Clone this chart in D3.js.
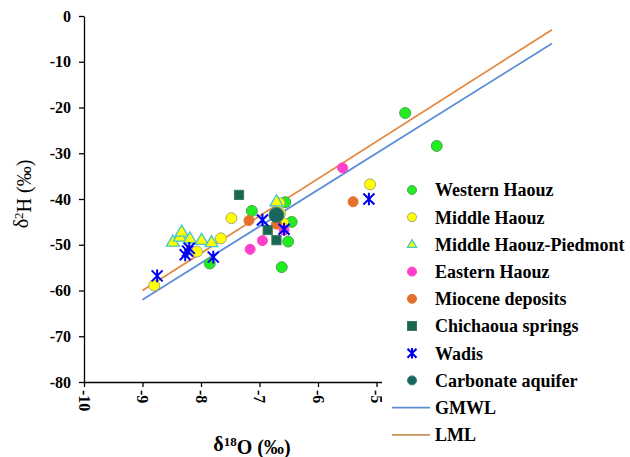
<!DOCTYPE html>
<html>
<head>
<meta charset="utf-8">
<script src="https://cdn.jsdelivr.net/npm/d3@7"></script>
<style>
  body { margin: 0; background: #fff; }
  svg { display: block; }
  text { font-family: "Liberation Serif", "Times New Roman", serif; fill: #000; }
</style>
</head>
<body>
<div id="chart"></div>
<script>
// Series values: [δ18O, δ2H]
const westernHaouz = [[-4.51, -21.2], [-3.97, -28.4], [-7.13, -42.6], [-6.56, -40.7], [-6.45, -45.0], [-6.51, -49.3], [-6.62, -54.9], [-7.85, -54.1]]
const middleHaouz = [[-8.80, -58.9], [-7.66, -48.6], [-7.48, -44.2], [-8.07, -51.5], [-6.66, -40.9], [-6.65, -43.1], [-6.59, -45.3], [-5.11, -36.8]]
const middleHaouzPiedmont = [[-8.48, -49.4], [-8.36, -48.3], [-8.33, -47.2], [-8.19, -48.7], [-7.99, -49.0], [-7.82, -49.5], [-6.71, -40.6]]
const easternHaouz = [[-5.58, -33.2], [-7.16, -51.0], [-6.95, -49.1], [-6.58, -46.8]]
const mioceneDeposits = [[-5.40, -40.6], [-7.18, -44.7], [-6.71, -45.5]]
const chichaouaSprings = [[-7.35, -39.1], [-6.86, -46.8], [-6.71, -49.0]]
const wadis = [[-8.75, -56.8], [-8.27, -52.2], [-8.20, -50.8], [-8.23, -51.4], [-7.79, -52.7], [-6.95, -44.6], [-6.58, -46.6], [-5.13, -40.0]]
const carbonateAquifer = [[-6.71, -43.5]]

// Reference lines (end points)
const gmwl = [[-9, -62], [-2, -6]]
const lml = [[-9, -60], [-2, -3]]

// Axis ticks
const xTicks = [-10, -9, -8, -7, -6, -5]
const yTicks = [0, -10, -20, -30, -40, -50, -60, -70, -80]

const legendNames = ["Western Haouz", "Middle Haouz", "Middle Haouz-Piedmont", "Eastern Haouz", "Miocene deposits", "Chichaoua springs", "Wadis", "Carbonate aquifer", "GMWL", "LML"]

const width = 630
const height = 457

const svg = d3.select("#chart").append("svg").attr("width", width).attr("height", height)

// Scales
const x = d3.scaleLinear().domain([-10, -1]).range([84, 610.5])
const y = d3.scaleLinear().domain([-80, 0]).range([382, 16])

// Series styles
const series = [
  { data: westernHaouz, type: "circle", fill: "#22ec22", stroke: "#4ea64e", r: 5.5 },
  { data: middleHaouz, type: "circle", fill: "#ffff00", stroke: "#a9a77a", r: 5.5 },
  { data: middleHaouzPiedmont, type: "triangle", fill: "#ffff00", stroke: "#3fc6d2", r: 6.5 },
  { data: easternHaouz, type: "circle", fill: "#ff40cc", stroke: "#ff40cc", r: 5 },
  { data: mioceneDeposits, type: "circle", fill: "#e5702c", stroke: "#e5702c", r: 5 },
  { data: chichaouaSprings, type: "square", fill: "#1b6650", stroke: "#3b7a60", r: 4.6 },
  { data: wadis, type: "star", fill: "none", stroke: "#0000f0", r: 5.5 },
  { data: carbonateAquifer, type: "circle", fill: "#18675e", stroke: "#3a7a70", r: 7.5 },
]

function drawMarker(sel, s, r) {
  if (s.type === "circle") {
    sel.append("circle").attr("r", r).attr("fill", s.fill).attr("stroke", s.stroke).attr("stroke-width", 1)
  } else if (s.type === "square") {
    sel.append("rect").attr("x", -r).attr("y", -r).attr("width", 2 * r).attr("height", 2 * r)
      .attr("fill", s.fill).attr("stroke", s.stroke).attr("stroke-width", 1)
  } else if (s.type === "triangle") {
    const h = r * 1.7
    sel.append("path")
      .attr("d", `M0,${-h * 0.62}L${r},${h * 0.38}L${-r},${h * 0.38}Z`)
      .attr("fill", s.fill).attr("stroke", s.stroke).attr("stroke-width", 1.3)
  } else {
    // star marker: an X with a vertical bar
    sel.append("path")
      .attr("d", `M${-r},${-r}L${r},${r}M${r},${-r}L${-r},${r}M0,${-r * 1.15}L0,${r * 1.15}`)
      .attr("fill", "none").attr("stroke", s.stroke).attr("stroke-width", 2)
  }
}

// Reference lines
const line = d3.line().x((d) => x(d[0])).y((d) => y(d[1]))
svg.append("path").datum(gmwl).attr("d", line).attr("fill", "none").attr("stroke", "#5b8ed6").attr("stroke-width", 1.8)
svg.append("path").datum(lml).attr("d", line).attr("fill", "none").attr("stroke", "#e3873e").attr("stroke-width", 1.8)

// Points
series.forEach((s) => {
  svg.append("g").selectAll("g").data(s.data).enter().append("g")
    .attr("transform", (d) => `translate(${x(d[0])},${y(d[1])})`)
    .each(function () { drawMarker(d3.select(this), s, s.r) })
})

// Axes
const xAxis = svg.append("g").attr("transform", `translate(0,${y(-80)})`)
  .call(d3.axisBottom(x).tickValues(xTicks).tickSize(5).tickSizeOuter(0).tickFormat(d3.format("d")))
xAxis.selectAll("text")
  .attr("transform", "rotate(90)")
  .attr("x", 8).attr("y", 0).attr("dy", "0.35em")
  .attr("text-anchor", "start")
  .style("font-size", "16px").style("font-weight", "bold")

const yAxis = svg.append("g").attr("transform", `translate(${x(-10)},0)`)
  .call(d3.axisLeft(y).tickValues(yTicks).tickSize(5).tickSizeOuter(0).tickFormat(d3.format("d")))
yAxis.selectAll("text").attr("x", -13).style("font-size", "16px").style("font-weight", "bold")

svg.selectAll(".domain, .tick line").attr("stroke", "#000").attr("stroke-width", 1.3)
svg.selectAll(".tick text").text((d) => String(d).replace("\u2212", "-"))

// Axis titles
const yTitle = svg.append("text").attr("transform", "translate(28,194) rotate(-90)")
  .attr("text-anchor", "middle").style("font-size", "20px")
yTitle.append("tspan").text("δ")
yTitle.append("tspan").text("2").attr("dy", "-0.4em").style("font-size", "13px")
yTitle.append("tspan").text("H (‰)").attr("dy", "0.4em")

const xTitle = svg.append("text").attr("x", 252).attr("y", 451)
  .attr("text-anchor", "middle").style("font-size", "20px").style("font-weight", "bold")
xTitle.append("tspan").text("δ")
xTitle.append("tspan").text("18").attr("dy", "-0.4em").style("font-size", "13px")
xTitle.append("tspan").text("O (‰)").attr("dy", "0.4em")

// Legend (white box covering the right side)
const legend = svg.append("g")
legend.append("rect").attr("x", 382).attr("y", 168).attr("width", 248).attr("height", 289).attr("fill", "#fff")

const rowY = (i) => 190 + i * 27.2
legendNames.forEach((name, i) => {
  const row = legend.append("g").attr("transform", `translate(0,${rowY(i)})`)
  if (i < series.length) {
    const m = row.append("g").attr("transform", "translate(412,0)")
    drawMarker(m, series[i], 4.5)
  } else {
    row.append("line").attr("x1", 392).attr("x2", 430).attr("y1", 0).attr("y2", 0)
      .attr("stroke", i === 8 ? "#5b8ed6" : "#c9935a").attr("stroke-width", 1.8)
  }
  row.append("text").attr("x", 435).attr("y", 0).attr("dy", "0.35em")
    .style("font-size", "18px").style("font-weight", "bold").text(name)
})
</script>
</body>
</html>
